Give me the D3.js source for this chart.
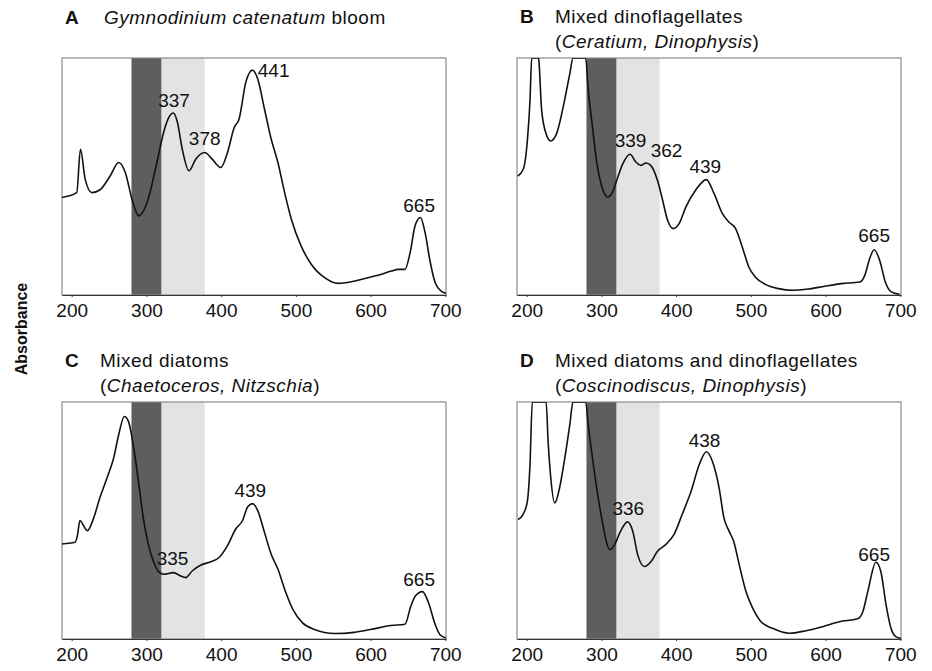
<!DOCTYPE html>
<html>
<head>
<meta charset="utf-8">
<script src="https://cdn.jsdelivr.net/npm/d3@7"></script>
<style>
  body { margin: 0; background: #fff; }
  svg text { font-family: "Liberation Sans", Arial, Helvetica, sans-serif; fill: #111; }
  .spec { fill: none; stroke: #111; stroke-width: 1.6px; stroke-linejoin: round; }
  .frame { fill: none; stroke: #8c8c8c; stroke-width: 1.2px; }
  .axis path, .axis line { stroke: #333; }
  .axis text { font-size: 19px; }
  .peak { font-size: 19px; }
  .title { font-size: 19px; letter-spacing: 0.5px; }
</style>
</head>
<body>
<svg id="chart" width="932" height="671"></svg>
<script>

// wavelength ticks (nm)
var xTicks = [200, 300, 400, 500, 600, 700];

// UV-B and UV-A bands (nm)
var bandUVB = [280, 320];
var bandUVA = [320, 378];

// spectra, [nm, relative absorbance]; off-scale parts read as 1
var specA = [[186.5,0.411],[206.7,0.432],[211.7,0.615],[218,0.489],[227,0.432],[238,0.444],
  [251.6,0.503],[262.8,0.559],[271.7,0.517],[280.7,0.404],[289.7,0.334],[300.9,0.39],[314,0.559],
  [323,0.686],[330,0.749],[336,0.768],[341,0.735],[348,0.615],[357,0.524],[366,0.573],[378,0.601],
  [388,0.573],[399.6,0.538],[408.5,0.601],[417.5,0.707],[424,0.742],[433,0.897],[442,0.949],
  [449,0.911],[458,0.785],[467,0.658],[476,0.559],[485,0.432],[494,0.32],[507,0.207],[520.6,0.13],
  [538.6,0.073],[556.5,0.049],[574.4,0.056],[592.4,0.07],[610,0.083],[628,0.101],[637,0.108],
  [646,0.108],[653,0.179],[659.6,0.292],[666.8,0.327],[673,0.263],[680,0.137],[686.5,0.052],
  [695.5,0.014],[701,0.007]];

var specB = [[188,0.502],[195.6,0.533],[200.9,0.653],[204.4,0.821],[206.7,1],[216,1],[216.9,0.962],
  [220,0.779],[226.6,0.674],[232,0.65],[240,0.681],[248.8,0.793],[257.7,0.934],[262,1],[279,1],
  [282,0.878],[288,0.709],[294,0.554],[300,0.463],[308.7,0.413],[315,0.435],[322,0.498],[328.7,0.554],
  [338.4,0.594],[346,0.561],[353,0.547],[359.7,0.557],[366,0.547],[375,0.484],[382,0.399],
  [388.6,0.315],[396,0.28],[404,0.301],[413,0.371],[426,0.442],[440.5,0.487],[450.8,0.428],
  [462,0.343],[470.5,0.308],[479.6,0.28],[488.5,0.203],[497.3,0.118],[506,0.076],[519.4,0.045],
  [537,0.027],[555,0.02],[577,0.025],[599,0.037],[621.6,0.048],[646,0.055],[652.5,0.083],
  [659,0.153],[665,0.191],[672.5,0.146],[680,0.055],[688,0.013],[699,0.003]];

var specC = [[186.5,0.401],[204.5,0.408],[207.6,0.436],[211,0.5],[215.7,0.479],[221,0.457],
  [229,0.507],[238,0.599],[247,0.677],[256,0.762],[262.8,0.861],[270.4,0.939],[276,0.918],
  [283,0.805],[290,0.649],[296,0.507],[303,0.394],[310,0.323],[316.6,0.283],[323,0.273],[336,0.28],
  [346,0.266],[352.5,0.259],[361.6,0.288],[373,0.312],[386,0.326],[397.3,0.344],[408.5,0.394],
  [419.7,0.465],[428.7,0.5],[435.4,0.557],[442,0.571],[449,0.542],[458,0.45],[467,0.358],
  [476,0.295],[485,0.21],[496,0.125],[509,0.068],[525,0.04],[552,0.023],[578,0.028],[600,0.04],
  [627.4,0.057],[646,0.062],[654,0.139],[660,0.181],[669.5,0.2],[677.6,0.153],[686.5,0.061],
  [693,0.018],[701,0.004]];

var specD = [[188.4,0.504],[195,0.525],[200.9,0.581],[204.4,0.736],[207.5,1],[226,1],[228.6,0.835],
  [231.8,0.694],[237.5,0.574],[244,0.638],[251,0.764],[257.7,0.905],[262,1],[279,1],[282,0.913],
  [288.6,0.75],[295,0.609],[302,0.482],[306.5,0.412],[311,0.377],[317.7,0.398],[324.4,0.447],
  [335,0.494],[342,0.454],[348.6,0.355],[357.5,0.306],[366.5,0.327],[375,0.37],[386,0.398],
  [397,0.44],[408,0.525],[420,0.623],[431,0.736],[440.5,0.79],[448.5,0.75],[457.5,0.638],
  [464,0.511],[471,0.454],[477,0.412],[484.5,0.313],[493.5,0.2],[502.5,0.13],[513.6,0.073],
  [529,0.045],[551.6,0.024],[574,0.035],[596,0.052],[618.6,0.073],[643,0.085],[650,0.116],
  [656.5,0.2],[667.5,0.324],[674,0.285],[681,0.144],[687.6,0.045],[694,0.01],[700.8,0.003]];

// labelled peaks (nm)
var peaksA = [337, 378, 441, 665];
var peaksB = [339, 362, 439, 665];
var peaksC = [335, 439, 665];
var peaksD = [336, 438, 665];

// panel letters and titles: lines of [text, italic]
var letters = ['A', 'B', 'C', 'D'];
var titles = [
  [[['Gymnodinium catenatum', 1], [' bloom', 0]]],
  [[['Mixed dinoflagellates', 0]], [['(', 0], ['Ceratium, Dinophysis', 1], [')', 0]]],
  [[['Mixed diatoms', 0]], [['(', 0], ['Chaetoceros, Nitzschia', 1], [')', 0]]],
  [[['Mixed diatoms and dinoflagellates', 0]], [['(', 0], ['Coscinodiscus, Dinophysis', 1], [')', 0]]]
];

var specs = [specA, specB, specC, specD];
var peaks = [peaksA, peaksB, peaksC, peaksD];

// layout
var colLeft = [62, 517], rowTop = [58, 402];
var w = 384, h = 237;
// labels that sit beside the peak instead of above it
var sideLabel = {'A441': [6, 6], 'B362': [3, -7]};

var svg = d3.select('#chart');

var x = d3.scaleLinear().domain([187, 701]).range([0, w]);
var y = d3.scaleLinear().domain([0, 1]).range([h, 0]);

var line = d3.line()
  .x(function(d) { return x(d[0]); })
  .y(function(d) { return y(d[1]); })
  .curve(d3.curveMonotoneX);

function valueAt(spec, nm) {
  var i = d3.bisector(function(d) { return d[0]; }).left(spec, nm);
  if (i <= 0) return spec[0][1];
  var a = spec[i - 1], b = spec[i];
  return a[1] + (b[1] - a[1]) * (nm - a[0]) / (b[0] - a[0]);
}

specs.forEach(function(spec, k) {
  var left = colLeft[k % 2], top = rowTop[Math.floor(k / 2)];
  var g = svg.append('g').attr('transform', 'translate(' + left + ',' + top + ')');

  g.append('clipPath').attr('id', 'clip' + k)
    .append('rect').attr('width', w).attr('height', h);

  // bands
  g.append('rect')
    .attr('x', x(bandUVA[0])).attr('width', x(bandUVA[1]) - x(bandUVA[0]))
    .attr('height', h).attr('fill', '#e3e3e3');
  g.append('rect')
    .attr('x', x(bandUVB[0])).attr('width', x(bandUVB[1]) - x(bandUVB[0]))
    .attr('height', h).attr('fill', '#5e5e5e');

  g.append('rect').attr('class', 'frame').attr('width', w).attr('height', h);

  // axis
  g.append('g').attr('class', 'axis')
    .attr('transform', 'translate(0,' + h + ')')
    .call(d3.axisBottom(x).tickValues(xTicks).tickSize(2).tickPadding(7).tickSizeOuter(0))
    .call(function(a) { a.select('.domain').attr('stroke', '#555'); });

  g.append('path').datum(spec)
    .attr('class', 'spec')
    .attr('clip-path', 'url(#clip' + k + ')')
    .attr('d', line);

  // peak labels
  peaks[k].forEach(function(nm) {
    var key = letters[k] + nm;
    var py = y(valueAt(spec, nm));
    var t = g.append('text').attr('class', 'peak').text(nm);
    if (sideLabel[key]) {
      t.attr('x', x(nm) + sideLabel[key][0]).attr('y', py + sideLabel[key][1])
        .attr('text-anchor', 'start');
    } else {
      t.attr('x', x(nm)).attr('y', py - 8).attr('text-anchor', 'middle');
    }
  });

  // title
  var lines = titles[k];
  var base = lines.length > 1 ? -35 : -34;
  g.append('text').attr('class', 'title')
    .attr('x', 3).attr('y', base)
    .attr('font-weight', 'bold')
    .text(letters[k]);
  lines.forEach(function(segs, li) {
    var t = g.append('text').attr('class', 'title')
      .attr('x', k === 0 ? 42 : 38).attr('y', base + li * 25);
    segs.forEach(function(s) {
      t.append('tspan')
        .attr('font-style', s[1] ? 'italic' : 'normal')
        .text(s[0]);
    });
  });
});

// shared y label
svg.append('text')
  .attr('transform', 'translate(27,329) rotate(-90)')
  .attr('text-anchor', 'middle')
  .attr('font-weight', 'bold')
  .attr('font-size', 16)
  .text('Absorbance');

</script>
</body>
</html>
